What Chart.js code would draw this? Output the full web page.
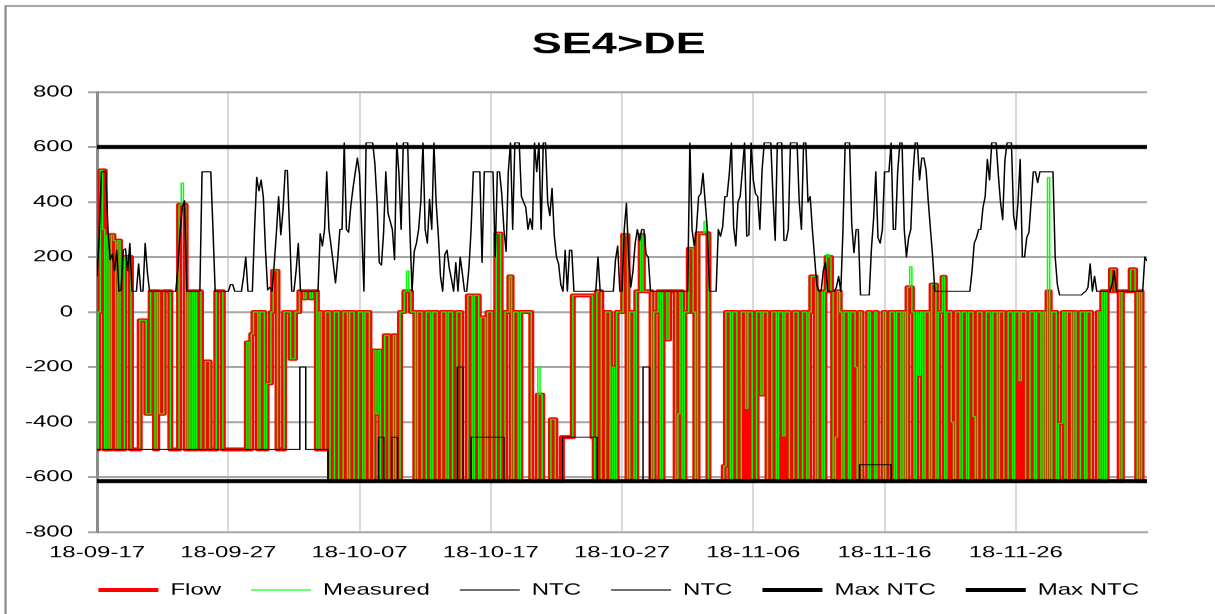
<!DOCTYPE html>
<html>
<head>
<meta charset="utf-8">
<title>SE4>DE</title>
<script src="https://cdn.jsdelivr.net/npm/chart.js@4/dist/chart.umd.min.js"></script>
<style>
  html, body { margin: 0; padding: 0; background: #fff; overflow: hidden; }
  #chart { display: block; }
</style>
</head>
<body>
<canvas id="chart" width="810" height="614"></canvas>
<script>
// SE4>DE, 2018-09-17 .. 2018-12-06, values every 4 hours (6 per day)
const PER_DAY = 6;
const xTickLabels = ['18-09-17', '18-09-27', '18-10-07', '18-10-17', '18-10-27', '18-11-06', '18-11-16', '18-11-26'];
const seriesNames = ['Flow', 'Measured', 'NTC', 'NTC', 'Max NTC', 'Max NTC'];

const flow = [
  // 09-17 .. 09-26
  -500, 0, 515, 515, -500, 280,
  -500, 280, 260, -500, 260, -500,
  -500, 200, 200, 200, -500, -500,
  -500, -500, -30, -30, -30, -370,
  -370, 75, 75, -500, 75, -370,
  -370, 75, 75, 75, -500, -500,
  -500, -500, 390, 390, 390, -500,
  75, -500, 75, -500, 75, 75,
  -500, -500, -180, -180, -500, -500,
  -500, 75, 75, 75, -500, -500,
  // 09-27 .. 10-06
  -500, -500, -500, -500, -500, -500,
  -500, -500, -500, -110, -500, -80,
  0, 0, -500, 0, 0, -500,
  -260, -260, 0, 150, 150, -500,
  -500, -500, 0, 0, 0, -170,
  -170, 0, 0, 75, 75, 50,
  75, 75, 50, 75, 75, -500,
  0, -500, -500, 0, 0, -615,
  -615, 0, 0, -615, -615, 0,
  0, -615, 0, 0, -615, -615,
  // 10-07 .. 10-16
  0, 0, -615, 0, 0, -615,
  -615, -140, -370, -140, -615, -615,
  -85, -85, -615, -615, -85, -615,
  -615, 0, 0, 75, 75, 75,
  0, 0, -615, 0, 0, -615,
  -615, 0, 0, -615, 0, 0,
  -615, -615, 0, 0, -615, 0,
  0, -615, -615, 0, 0, -615,
  -615, -615, 60, 60, -615, 60,
  60, -615, -20, -20, -615, 0,
  // 10-17 .. 10-26
  0, -615, -615, 285, 285, -615,
  -615, 0, 0, 130, -615, 0,
  0, -615, 0, 0, 0, 0,
  0, -615, -615, -615, -300, -300,
  -615, -615, -615, -615, -390, -390,
  -615, -615, -615, -455, -455, -455,
  -455, -455, 60, 60, 60, 60,
  60, 60, 60, 60, 60, -455,
  -615, 75, 75, -615, -615, 0,
  0, -615, -200, -615, 0, 0,
  // 10-27 .. 11-05
  0, 280, 280, -615, 0, 0,
  -615, 75, 75, 280, 75, 75,
  75, 75, -615, 0, 0, 75,
  -615, 75, 75, -100, 75, 75,
  75, -615, 75, 75, -615, 0,
  0, 230, 230, 0, -615, 286,
  286, 286, 286, 286, -615, -615,
  -615, -615, -615, -615, -615, -560,
  0, 0, -615, 0, 0, -615,
  -615, 0, 0, -615, 0, 0,
  // 11-06 .. 11-15
  -615, -615, 0, 0, -300, 0,
  0, -615, -615, 0, 0, -615,
  0, 0, -615, 0, 0, -615,
  -615, 0, 0, -615, -615, 0,
  0, -615, 0, 130, 130, -615,
  75, 75, -615, 75, 200, 200,
  75, -615, -615, 75, 0, -615,
  0, 0, -615, 0, 0, -615,
  -615, 0, -615, -615, -615, 0,
  -615, -615, 0, -615, -615, -615,
  // 11-16 .. 11-25
  0, -615, -615, 0, 0, -615,
  0, 0, -615, 0, -615, 90,
  90, 0, -615, 0, -230, 0,
  -615, 0, 0, -615, 100, 100,
  -615, 0, 0, 128, -615, 0,
  0, -615, -615, 0, 0, -615,
  0, 0, -615, 0, 0, -615,
  -615, 0, 0, -615, -615, 0,
  0, -615, 0, 0, -615, 0,
  0, -615, -615, 0, 0, -615,
  // 11-26 .. 12-05
  0, 0, -615, 0, 0, -615,
  -615, 0, 0, -615, 0, 0,
  -615, 0, -615, 75, -615, 0,
  0, -615, -405, -405, 0, -615,
  0, 0, -615, 0, -615, -615,
  0, 0, -615, 0, 0, -615,
  -615, -615, 0, -615, 75, -615,
  75, 75, 155, 155, 75, 75,
  -615, 75, 75, 75, 75, 155,
  155, 75, -615, 75, -615, -615,
  -615
];

const measured = [
  // 09-17 .. 09-26
  -500, 0, 515, 300, -500, 280,
  -500, 280, 260, -500, 260, -500,
  -500, 200, 200, 200, -500, -500,
  -500, -500, -30, -30, -30, -370,
  -370, 75, 75, -500, 75, -370,
  -370, 75, 75, 75, -500, -500,
  -500, -500, 390, 470, 390, -500,
  75, -500, 75, -500, 75, 75,
  -500, -500, -180, -180, -500, -500,
  -500, 75, 75, 75, -500, -500,
  // 09-27 .. 10-06
  -500, -500, -500, -500, -500, -500,
  -500, -500, -500, -110, -500, -80,
  0, 0, -500, 0, 0, -500,
  -260, -260, 0, 150, 150, -500,
  -500, -500, 0, 0, 0, -170,
  -170, 0, 0, 75, 75, 50,
  75, 75, 50, 75, 75, -500,
  0, -500, -500, 0, 0, -615,
  -615, 0, 0, -615, -615, 0,
  0, -615, 0, 0, -615, -615,
  // 10-07 .. 10-16
  0, 0, -615, 0, 0, -615,
  -615, -140, -370, -140, -615, -615,
  -85, -85, -615, -615, -85, -615,
  -615, 0, 0, 75, 150, 75,
  0, 0, -615, 0, 0, -615,
  -615, 0, 0, -615, 0, 0,
  -615, -615, 0, 0, -615, 0,
  0, -615, -615, 0, 0, -615,
  -615, -615, 60, 60, -615, 60,
  60, -615, -20, -20, -615, 0,
  // 10-17 .. 10-26
  0, -615, -615, 285, 285, -615,
  -615, 0, 0, 130, -615, 0,
  0, -615, 0, 0, 0, 0,
  0, -615, -615, -615, -200, -300,
  -615, -615, -615, -615, -390, -390,
  -615, -615, -615, -455, -455, -455,
  -455, -455, 60, 60, 60, 60,
  60, 60, 60, 60, 60, -455,
  -615, 75, 75, -615, -615, 0,
  0, -615, -200, -615, 0, 0,
  // 10-27 .. 11-05
  0, 280, 280, -615, 0, 0,
  -615, 75, 75, 280, 75, 75,
  75, 75, -615, 0, 0, 75,
  -615, 75, 75, -100, 75, 75,
  75, -615, -370, 75, -615, 0,
  0, 230, 230, 0, -615, 286,
  286, 286, 330, 286, -615, -615,
  -615, -615, -615, -615, -615, -560,
  0, 0, -615, 0, 0, -615,
  -615, 0, 0, -350, 0, 0,
  // 11-06 .. 11-15
  -615, -615, 0, 0, -300, 0,
  0, -615, -615, 0, 0, -615,
  0, 0, -450, 0, 0, -615,
  -615, 0, 0, -615, -615, 0,
  0, -615, 0, 130, 130, -615,
  75, 75, -615, 75, 210, 200,
  75, -615, -455, 75, 0, -615,
  0, 0, -615, 0, 0, -200,
  -615, 0, -615, -615, -615, 0,
  -615, -615, 0, -615, -615, -615,
  // 11-16 .. 11-25
  0, -615, -615, 0, 0, -615,
  0, 0, -615, 0, -615, 90,
  165, 0, -615, 0, -230, 0,
  -615, 0, 0, -615, 100, 100,
  -615, 0, 0, 128, -615, 0,
  0, -400, -615, 0, 0, -615,
  0, 0, -615, 0, 0, -380,
  -615, 0, 0, -615, -615, 0,
  0, -615, 0, 0, -615, 0,
  0, -615, -615, 0, 0, -615,
  // 11-26 .. 12-05
  0, 0, -250, 0, 0, -615,
  -615, 0, 0, -615, 0, 0,
  -615, 0, -615, 490, -615, 0,
  0, -615, -405, -405, 0, -615,
  0, 0, -615, 0, -615, -615,
  0, 0, -615, 0, 0, -615,
  -615, -615, 0, -615, 75, -615,
  75, 75, 155, 155, 75, 75,
  -615, 75, 75, 75, 75, 155,
  155, 75, -615, 75, -615, -615,
  -615
];

// upper NTC (SE4 -> DE capacity)
const ntcUp = [
  // 09-17 .. 09-26
  130, 280, 510, 510, 510, 300,
  190, 210, 150, 225, 75, 80,
  225, 230, 150, 250, 75, 75,
  75, 175, 75, 75, 250, 145,
  75, 75, 75, 75, 75, 75,
  75, 75, 75, 75, 75, 75,
  75, 165, 300, 380, 405, 75,
  75, 75, 75, 75, 75, 75,
  510, 510, 510, 510, 510, 300,
  75, 75, 75, 75, 75, 75,
  // 09-27 .. 10-06
  75, 100, 100, 75, 75, 75,
  75, 130, 200, 75, 75, 75,
  300, 490, 440, 480, 420, 225,
  80, 90, 75, 175, 290, 420,
  280, 370, 515, 515, 300, 75,
  75, 150, 250, 75, 75, 75,
  75, 75, 75, 75, 75, 75,
  285, 240, 300, 510, 300, 240,
  175, 105, 190, 300, 300, 615,
  300, 290, 385, 450, 505, 560,
  // 10-07 .. 10-16
  500, 300, 75, 615, 615, 615,
  615, 540, 400, 180, 170, 290,
  510, 360, 330, 300, 190, 615,
  505, 300, 615, 615, 615, 300,
  75, 220, 250, 300, 400, 615,
  300, 250, 410, 300, 615, 400,
  280, 130, 75, 210, 225, 160,
  120, 75, 180, 75, 200, 140,
  75, 75, 160, 300, 510, 510,
  510, 510, 180, 510, 510, 510,
  // 10-17 .. 10-26
  510, 510, 200, 510, 510, 430,
  300, 220, 510, 615, 300, 615,
  615, 615, 420, 400, 380, 300,
  340, 300, 615, 510, 615, 300,
  615, 615, 400, 350, 450, 280,
  200, 175, 100, 75, 225, 75,
  225, 225, 75, 75, 75, 75,
  75, 75, 75, 75, 75, 75,
  75, 200, 75, 75, 75, 75,
  75, 75, 75, 190, 240, 75,
  // 10-27 .. 11-05
  75, 300, 395, 200, 90, 150,
  250, 300, 260, 300, 300, 210,
  200, 75, 75, 75, 75, 75,
  75, 75, 75, 75, 75, 75,
  75, 75, 75, 75, 75, 75,
  75, 615, 300, 240, 300, 420,
  430, 505, 400, 300, 75, 75,
  75, 75, 300, 275, 310, 420,
  420, 500, 615, 310, 240, 400,
  420, 515, 615, 275, 280, 615,
  // 11-06 .. 11-15
  480, 430, 420, 300, 515, 615,
  615, 615, 615, 420, 260, 615,
  615, 615, 260, 260, 300, 615,
  615, 615, 615, 400, 300, 615,
  615, 400, 420, 300, 200, 100,
  75, 75, 150, 180, 75, 75,
  75, 75, 90, 130, 75, 300,
  615, 615, 615, 320, 215, 300,
  300, 62, 62, 62, 62, 62,
  230, 340, 510, 270, 250, 300,
  // 11-16 .. 11-25
  510, 510, 510, 615, 300, 300,
  510, 615, 615, 300, 200, 270,
  300, 500, 615, 615, 480, 560,
  560, 515, 400, 300, 200, 75,
  75, 75, 75, 75, 75, 75,
  75, 75, 75, 75, 75, 75,
  75, 75, 75, 75, 150, 250,
  270, 300, 300, 380, 420, 555,
  480, 615, 615, 615, 500, 400,
  335, 550, 615, 615, 615, 350,
  // 11-26 .. 12-05
  300, 400, 555, 200, 200, 270,
  290, 400, 510, 510, 470, 510,
  510, 510, 510, 510, 510, 510,
  200, 100, 62, 62, 62, 62,
  62, 62, 62, 62, 62, 62,
  62, 70, 75, 90, 175, 75,
  130, 75, 75, 75, 75, 75,
  75, 75, 100, 150, 75, 75,
  75, 75, 75, 75, 75, 75,
  75, 75, 75, 75, 75, 200,
  185
];

// lower NTC (DE -> SE4), piecewise constant: start day and level
const ntcLowDays = [0, 15.45, 15.9, 17.6, 21.45, 21.85, 22.45, 22.9, 27.45, 27.9, 28.5, 31.0, 35.45, 38.1, 41.6, 42.1, 58.1, 60.5, 80];
const ntcLow = [-500, -200, -500, -615, -455, -615, -455, -615, -200, -615, -455, -615, -455, -615, -200, -615, -555, -615, -615];

const maxNtc = [600, -615];
const xRange = [0, 80];

// ---- build chart data ----
const toPoints = vals => vals.map((v, i) => ({ x: i / PER_DAY, y: v }));
const stepPoints = (days, vals) => days.map((d, i) => ({ x: d, y: vals[i] }));
const flatLine = v => xRange.map(x => ({ x, y: v }));

const STRETCH = 1.5; // the original picture is stretched sideways

Chart.defaults.font.family = "'Liberation Sans', Arial, sans-serif";
Chart.defaults.color = '#000';

const framePlugin = {
  id: 'frame',
  beforeDraw(chart) {
    const ctx = chart.ctx;
    ctx.save();
    ctx.strokeStyle = '#8c8c8c';
    ctx.lineWidth = 1.5;
    ctx.strokeRect(3.7, 6, chart.width + 20, chart.height + 20);
    ctx.restore();
  }
};

const lineBase = { pointRadius: 0, tension: 0, fill: false, borderJoinStyle: 'round' };

const chart = new Chart(document.getElementById('chart'), {
  type: 'line',
  data: {
    datasets: [
      { ...lineBase, label: seriesNames[0], data: toPoints(flow), stepped: 'middle', borderColor: '#ff0000', borderWidth: 4, borderCapStyle: 'round', order: 6 },
      { ...lineBase, label: seriesNames[1], data: toPoints(measured), stepped: 'middle', borderColor: '#00ff00', borderWidth: 1, order: 5 },
      { ...lineBase, label: seriesNames[2], data: toPoints(ntcUp), borderColor: '#000000', borderWidth: 1, order: 4 },
      { ...lineBase, label: seriesNames[3], data: stepPoints(ntcLowDays, ntcLow), stepped: 'before', borderColor: '#000000', borderWidth: 1, order: 3 },
      { ...lineBase, label: seriesNames[4], data: flatLine(maxNtc[0]), borderColor: '#000000', borderWidth: 4, order: 2 },
      { ...lineBase, label: seriesNames[5], data: flatLine(maxNtc[1]), borderColor: '#000000', borderWidth: 4, order: 1 }
    ]
  },
  options: {
    responsive: false,
    devicePixelRatio: STRETCH,
    animation: false,
    events: [],
    layout: { padding: { top: 10, left: 15, right: 0, bottom: 6 } },
    plugins: {
      title: {
        display: true,
        text: 'SE4>DE',
        font: { size: 30, weight: 'bold' },
        padding: { top: 17, bottom: 29 }
      },
      legend: {
        position: 'bottom',
        labels: {
          usePointStyle: true,
          pointStyle: 'line',
          pointStyleWidth: 40,
          padding: 20,
          font: { size: 16 },
          sort: (a, b) => a.datasetIndex - b.datasetIndex
        }
      },
      tooltip: { enabled: false }
    },
    scales: {
      x: {
        type: 'linear',
        min: xRange[0],
        max: xRange[1],
        afterBuildTicks: scale => { scale.ticks = xTickLabels.map((_, i) => ({ value: i * 10 })); },
        afterFit: scale => { scale.height = 30; },
        grid: { color: '#d9d9d9', lineWidth: 1.3, drawTicks: false },
        border: { color: '#a6a6a6', width: 2 },
        ticks: {
          padding: 11,
          maxRotation: 0,
          autoSkip: false,
          font: { size: 16 },
          callback: v => xTickLabels[Math.round(v / 10)]
        }
      },
      y: {
        min: -800,
        max: 800,
        afterFit: scale => { scale.width = 49.7; },
        grid: { color: '#a6a6a6', lineWidth: 2, tickLength: 6 },
        border: { color: '#8c8c8c', width: 2 },
        ticks: { stepSize: 200, padding: 10, font: { size: 16 } }
      },
      // empty strip right of the plot
      gap: {
        position: 'right',
        afterFit: scale => { scale.width = 45.3; },
        grid: { display: false },
        border: { display: false },
        ticks: { display: false }
      }
    }
  },
  plugins: [framePlugin]
});

// stretch the drawing sideways to the full window width
chart.canvas.style.width = (chart.width * STRETCH) + 'px';
chart.canvas.style.height = chart.height + 'px';
</script>
</body>
</html>
